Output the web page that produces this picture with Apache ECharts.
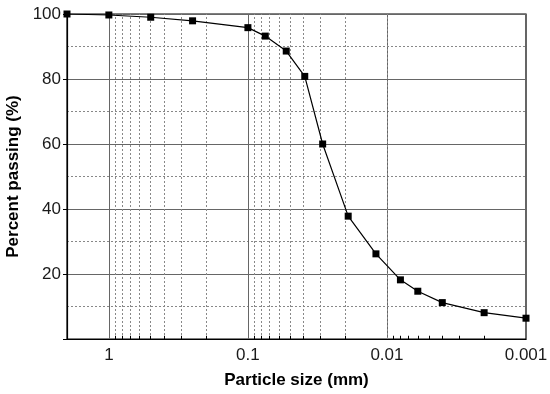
<!DOCTYPE html>
<html><head><meta charset="utf-8">
<script src="https://cdn.jsdelivr.net/npm/echarts@6/dist/echarts.min.js"></script>
<style>html,body{margin:0;padding:0;background:#fff}#c{width:550px;height:394px}</style>
</head><body><div id="c"></div>
<script>
// Particle size (mm) and percent passing
const particleSize = [2, 1, 0.5, 0.25, 0.1, 0.075, 0.053, 0.039, 0.029, 0.019, 0.012, 0.008, 0.006, 0.004, 0.002, 0.001];
const percentPassing = [100, 99.7, 99.0, 97.9, 95.8, 93.2, 88.6, 80.8, 60.0, 37.8, 26.2, 18.2, 14.7, 11.2, 8.1, 6.4];
const xTickLabels = ['1', '0.1', '0.01', '0.001'];
const yTickLabels = ['20', '40', '60', '80', '100'];
const minorDecades = [0.001, 0.01, 0.1, 1];
const minorMultipliers = [2, 3, 4, 5, 6, 7, 8, 9];

const minorX = [];
minorDecades.forEach(d => minorMultipliers.forEach(m => {
  const v = +(m * d).toPrecision(3);
  if (v < 2) minorX.push(v);
}));

const gridLines = minorX.map(v => ({ xAxis: v }));
const tickSegs = minorX.map(v => [{ coord: [v, 0] }, { coord: [v, 1] }]);

const FONT = 'Liberation Sans, Arial';
const chart = echarts.init(document.getElementById('c'));
chart.setOption({
  animation: false,
  grid: { left: 67, right: 24, top: 14, bottom: 55, containLabel: false, outerBoundsMode: 'none', show: true, borderColor: '#000', borderWidth: 1.2, backgroundColor: 'transparent' },
  xAxis: {
    type: 'log', logBase: 10, min: 0.001, max: 2, inverse: true,
    name: 'Particle size (mm)', nameLocation: 'middle', nameGap: 33,
    nameTextStyle: { fontFamily: FONT, fontSize: 17, fontWeight: 'bold', color: '#000' },
    axisLine: { show: true, lineStyle: { color: '#000', width: 1.2 } },
    axisTick: { show: false },
    axisLabel: {
      fontFamily: FONT, fontSize: 17, color: '#1a1a1a', margin: 8,
      formatter: v => { const s = String(+Number(v).toPrecision(3)); return xTickLabels.includes(s) ? s : ''; }
    },
    splitLine: { show: true, lineStyle: { color: '#666', width: 1 } }
  },
  yAxis: {
    type: 'value', min: 0, max: 100, interval: 20,
    name: 'Percent passing (%)', nameLocation: 'middle', nameGap: 42,
    nameTextStyle: { fontFamily: FONT, fontSize: 17, fontWeight: 'bold', color: '#000' },
    axisLine: { show: true, lineStyle: { color: '#000', width: 1.2 } },
    axisTick: { show: true, length: 4, inside: false, lineStyle: { color: '#000' } },
    axisLabel: {
      fontFamily: FONT, fontSize: 17, color: '#1a1a1a', margin: 6,
      formatter: v => yTickLabels.includes(String(v)) ? String(v) : ''
    },
    splitLine: { show: true, lineStyle: { color: '#666', width: 1 } },
    minorTick: { show: true, splitNumber: 2, length: 0, lineStyle: { opacity: 0 } },
    minorSplitLine: { show: true, lineStyle: { color: '#888', type: [2, 2], width: 1 } }
  },
  series: [
    {
      type: 'line', z: 1, silent: true, data: [], symbol: 'none',
      markLine: {
        silent: true, symbol: 'none', animation: false,
        label: { show: false },
        lineStyle: { color: '#888', type: [2, 2], width: 1 },
        data: gridLines
      }
    },
    {
      type: 'line', z: 2, silent: true, data: [], symbol: 'none',
      markLine: {
        silent: true, symbol: 'none', animation: false,
        label: { show: false },
        lineStyle: { color: '#000', type: 'solid', width: 1 },
        data: tickSegs
      }
    },
    {
      type: 'line', z: 5,
      data: particleSize.map((x, i) => [x, percentPassing[i]]),
      symbol: 'rect', symbolSize: 7,
      itemStyle: { color: '#000' },
      lineStyle: { color: '#000', width: 1.2 }
    }
  ]
});
</script></body></html>
